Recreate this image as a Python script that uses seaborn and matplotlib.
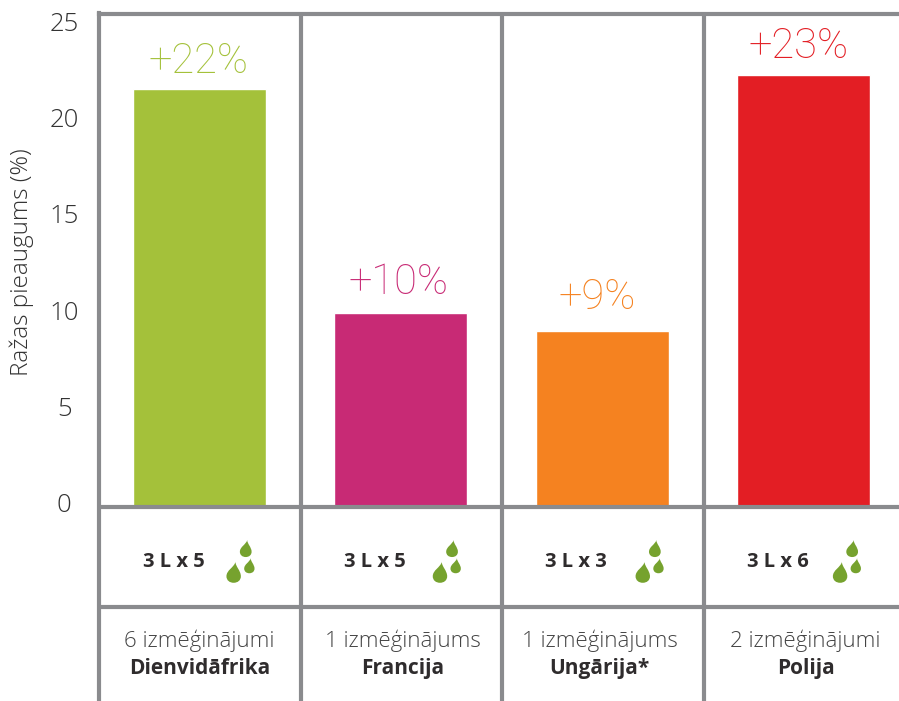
import matplotlib
matplotlib.use('Agg')
import matplotlib.pyplot as plt
import matplotlib.transforms as mtransforms
from matplotlib.path import Path
import pandas as pd
import seaborn as sns

countries = ['Dienvidāfrika', 'Francija', 'Ungārija*', 'Polija']
increase = [21.75, 10.12, 9.18, 22.52]
bar_labels = ['+22%', '+10%', '+9%', '+23%']
doses = ['3 L x 5', '3 L x 5', '3 L x 3', '3 L x 6']
trials = ['6 izmēģinājumi', '1 izmēģinājums', '1 izmēģinājums', '2 izmēģinājumi']
colors = ['#a4c13a', '#c82a75', '#f58220', '#e31e24']
yticks = [0, 5, 10, 15, 20, 25]

GREY = '#8a8b8e'
DARK = '#2f2c2d'
DROP = '#76a22e'
OPEN = ['Open Sans', 'DejaVu Sans']

df = pd.DataFrame({'country': countries, 'increase': increase})

sns.set_style('white')
plt.rcParams['font.family'] = ['Roboto', 'DejaVu Sans']

W, H = 899, 701
fig = plt.figure(figsize=(W / 100, H / 100), dpi=100)
ax = fig.add_axes([99 / W, 0, 800 / W, (H - 13.5) / H])

sns.barplot(ax=ax, data=df, x='country', y='increase', hue='country', palette=colors,
            legend=False, width=133 / 201.3, saturation=1)
ax.set_xlim(-0.5, 3.474)
ax.set_ylim(-10.1, 25.7)

# table lines
for x in [0.503, 1.504, 2.504]:
    ax.axvline(x, color=GREY, lw=3)
for y in [0, -5.2]:
    ax.axhline(y, color=GREY, lw=3, zorder=5)
sns.despine(ax=ax, right=True, bottom=True, top=False, left=False)
for side in ['left', 'top']:
    ax.spines[side].set_color(GREY)
    ax.spines[side].set_linewidth(3)

ax.set_xticks([])
ax.set_xlabel('')
ax.set_yticks(yticks)
ax.tick_params(axis='y', length=0, pad=25, labelsize=18.5, labelcolor='#333333')
shift = mtransforms.ScaledTranslation(0, 5 / 100, fig.dpi_scale_trans)
for lab in ax.get_yticklabels():
    lab.set_horizontalalignment('center')
    lab.set_fontweight('light')
    lab.set_family(OPEN)
    lab.set_transform(lab.get_transform() + shift)
ax.set_ylabel('Ražas pieaugums (%)', fontsize=17.5, color='#333333', fontweight='light',
              va='center', family=OPEN)
ax.yaxis.set_label_coords(22 / W, (H - 262) / H, transform=fig.transFigure)

# teardrop used three times in each dose cell
drop = Path([(0.16, 1.0), (0.14, 0.62), (0.62, 0.25), (0.62, -0.24),
             (0.62, -0.6), (0.34, -0.8), (0.0, -0.8),
             (-0.34, -0.8), (-0.62, -0.6), (-0.62, -0.24),
             (-0.62, 0.3), (0.02, 0.5), (0.16, 1.0)],
            [Path.MOVETO] + [Path.CURVE4] * 12)

# small per-column nudges, in pixels
label_dx = [-1.5, -2, -5, -5]
label_dy = [28, 30, 33, 28]
trial_dx = [0, 1.5, -2.5, 2]
drop_dx = [34, 39, 40.5, 36.5]

for i, country in enumerate(countries):
    ax.annotate(bar_labels[i], (i, increase[i]), xytext=(label_dx[i] * 0.72, label_dy[i] * 0.72),
                textcoords='offset points', ha='center', va='center', fontsize=30,
                color=colors[i], fontweight='light')
    ax.text(i - 0.13, -2.84, doses[i], ha='center', va='center', fontsize=14.5,
            fontweight='bold', color=DARK, family=OPEN)
    tx = i + trial_dx[i] / 201.3
    ax.text(tx, -6.98, trials[i], ha='center', va='center', fontsize=16, color='#444444',
            fontweight='light', family=OPEN)
    ax.text(tx, -8.42, country, ha='center', va='center', fontsize=15, color=DARK,
            fontweight='bold', family=OPEN)
    dx = drop_dx[i] / 201.3
    ax.scatter([i + dx, i + dx + 0.06, i + dx + 0.078], [-3.46, -2.21, -3.1], s=[280, 185, 144],
               marker=drop, color=DROP, linewidths=0, zorder=4)

plt.savefig('out.png', dpi=100)
plt.close()
